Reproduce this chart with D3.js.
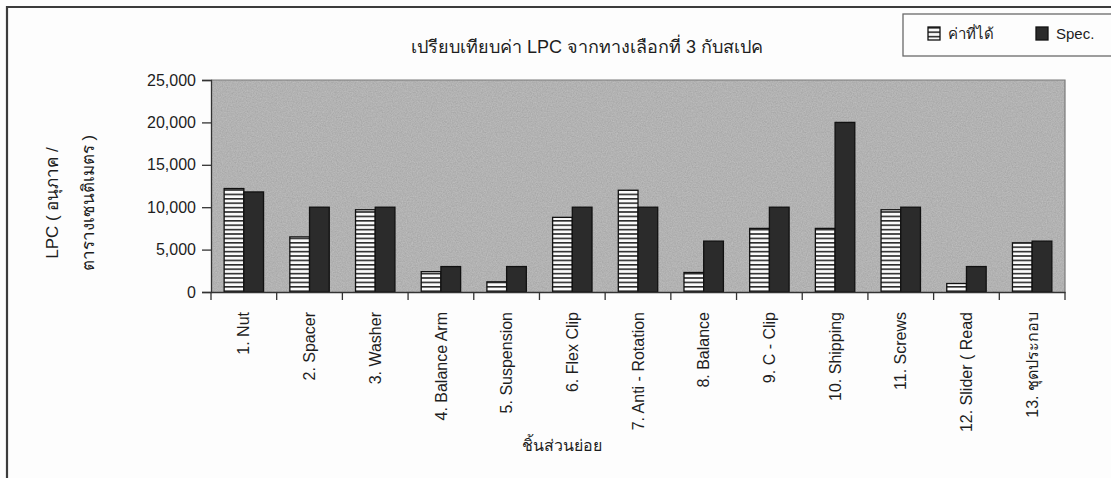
<!DOCTYPE html>
<html>
<head>
<meta charset="utf-8">
<script src="https://cdn.jsdelivr.net/npm/d3@7"></script>
<style>
  html, body { margin: 0; padding: 0; background: #fdfdfd; }
  svg { display: block; }
  text { font-family: "Liberation Sans", Arial, sans-serif; fill: #1e1e1e; }
</style>
</head>
<body>
<svg id="chart" width="1111" height="478"></svg>
<script>
// Parts measured, LPC per square centimetre
const categories = [
  "1. Nut", "2. Spacer", "3. Washer", "4. Balance Arm", "5. Suspension",
  "6. Flex Clip", "7. Anti - Rotation", "8. Balance", "9. C - Clip",
  "10. Shipping", "11. Screws", "12. Slider ( Read", "13. ชุดประกอบ"
];
const measured = [12200, 6500, 9700, 2400, 1200, 8800, 12000, 2300, 7500, 7500, 9700, 1000, 5800];
const spec     = [11800, 10000, 10000, 3000, 3000, 10000, 10000, 6000, 10000, 20000, 10000, 3000, 6000];
const seriesNames = ["ค่าที่ได้", "Spec."];
const yTicks = [0, 5000, 10000, 15000, 20000, 25000];

const titleText = "เปรียบเทียบค่า LPC จากทางเลือกที่ 3 กับสเปค";
const yTitleLines = ["LPC ( อนุภาค /", "ตารางเซนติเมตร )"];
const xTitle = "ชิ้นส่วนย่อย";

const svg = d3.select("#chart");
const W = 1111, H = 478;
const plot = { left: 211, right: 1065, top: 80, bottom: 292 };

const defs = svg.append("defs");
// horizontal hatch for the measured series
const hatch = defs.append("pattern")
  .attr("id", "hatch").attr("patternUnits", "userSpaceOnUse")
  .attr("width", 8).attr("height", 4.4);
hatch.append("rect").attr("width", 8).attr("height", 4.4).attr("fill", "#fafafa");
hatch.append("rect").attr("y", 0).attr("width", 8).attr("height", 1.6).attr("fill", "#2a2a2a");

// fine grain on the plot area background
const grain = defs.append("filter").attr("id", "grain")
  .attr("x", 0).attr("y", 0).attr("width", 1).attr("height", 1);
grain.append("feTurbulence").attr("type", "fractalNoise")
  .attr("baseFrequency", 0.8).attr("numOctaves", 2).attr("seed", 4).attr("result", "n");
grain.append("feColorMatrix").attr("in", "n").attr("type", "saturate").attr("values", 0).attr("result", "ng");
grain.append("feComponentTransfer").attr("in", "ng").attr("result", "nt")
  .call(g => {
    ["feFuncR", "feFuncG", "feFuncB"].forEach(f =>
      g.append(f).attr("type", "linear").attr("slope", 0.35).attr("intercept", 0.52));
    g.append("feFuncA").attr("type", "linear").attr("slope", 0).attr("intercept", 1);
  });
grain.append("feBlend").attr("in", "SourceGraphic").attr("in2", "nt").attr("mode", "multiply").attr("result", "b");
grain.append("feComposite").attr("in", "b").attr("in2", "SourceGraphic").attr("operator", "in");

// page background and outer frame
svg.append("rect").attr("width", W).attr("height", H).attr("fill", "#fdfdfd");
svg.append("path").attr("d", "M7,478V7H1111").attr("fill", "none")
  .attr("stroke", "#3c3c3c").attr("stroke-width", 2.2);

// scales
const x0 = d3.scaleBand().domain(categories).range([plot.left, plot.right]).padding(0);
const x1 = d3.scaleBand().domain([0, 1])
  .range([x0.bandwidth() * 0.2, x0.bandwidth() * 0.8]).padding(0);
const y = d3.scaleLinear().domain([0, 25000]).range([plot.bottom, plot.top]);

// plot area
svg.append("rect")
  .attr("x", plot.left).attr("y", plot.top)
  .attr("width", plot.right - plot.left).attr("height", plot.bottom - plot.top)
  .attr("fill", "#d2d2d2").attr("filter", "url(#grain)");
svg.append("path")
  .attr("d", `M${plot.left},${plot.top}H${plot.right}V${plot.bottom}`)
  .attr("fill", "none").attr("stroke", "#7a7a7a").attr("stroke-width", 1.2);

// bars
const rows = categories.map((c, i) => ({ c, vals: [measured[i], spec[i]] }));
const groups = svg.append("g").selectAll("g").data(rows).join("g")
  .attr("transform", d => `translate(${x0(d.c)},0)`);
groups.selectAll("rect").data(d => d.vals.map((v, k) => ({ v, k }))).join("rect")
  .attr("x", d => x1(d.k))
  .attr("y", d => y(d.v))
  .attr("width", x1.bandwidth())
  .attr("height", d => y(0) - y(d.v))
  .attr("fill", d => d.k === 0 ? "url(#hatch)" : "#2b2b2b")
  .attr("stroke", "#111").attr("stroke-width", 1.3);

// y axis
const yAxis = svg.append("g").attr("transform", `translate(${plot.left},0)`)
  .call(d3.axisLeft(y).tickValues(yTicks).tickFormat(d3.format(",")).tickSize(9).tickPadding(6));
yAxis.select(".domain").attr("stroke", "#333").attr("stroke-width", 1.3);
yAxis.selectAll(".tick line").attr("stroke", "#333").attr("stroke-width", 1.3);
yAxis.selectAll(".tick text").attr("font-size", 16).attr("fill", "#1e1e1e")
  .attr("font-family", "'Liberation Sans', Arial, sans-serif");

// x axis with ticks on category boundaries
const xAxis = svg.append("g").attr("transform", `translate(0,${plot.bottom})`)
  .call(d3.axisBottom(x0).tickSize(0).tickFormat(""));
xAxis.select(".domain").attr("stroke", "#333").attr("stroke-width", 1.3);
xAxis.selectAll(".tick").remove();
const bounds = categories.map(c => x0(c)).concat([plot.right]);
xAxis.selectAll("line.sep").data(bounds).join("line").attr("class", "sep")
  .attr("x1", d => d).attr("x2", d => d).attr("y1", 0).attr("y2", 8)
  .attr("stroke", "#333").attr("stroke-width", 1.3);
xAxis.selectAll("text.cat").data(categories).join("text").attr("class", "cat")
  .attr("transform", d => `translate(${x0(d) + x0.bandwidth() / 2},20) rotate(-90)`)
  .attr("text-anchor", "end").attr("dy", "0.35em")
  .attr("font-size", 16).attr("fill", "#2a2a2a").text(d => d);

// title
svg.append("text").attr("x", 587).attr("y", 53).attr("text-anchor", "middle")
  .attr("font-size", 18).text(titleText);

// y title, two rotated lines
svg.selectAll("text.ytitle").data(yTitleLines).join("text").attr("class", "ytitle")
  .attr("transform", (d, i) => `translate(${52 + i * 36},203) rotate(-90)`)
  .attr("text-anchor", "middle").attr("dy", "0.35em")
  .attr("font-size", 17).text(d => d);

// x title
svg.append("text").attr("x", 562).attr("y", 451).attr("text-anchor", "middle")
  .attr("font-size", 16).text(xTitle);

// legend
const lg = svg.append("g");
lg.append("rect").attr("x", 903).attr("y", 14).attr("width", 230).attr("height", 42)
  .attr("fill", "#fdfdfd").attr("stroke", "#6a6a6a").attr("stroke-width", 1.3);
const items = lg.selectAll("g").data(seriesNames).join("g")
  .attr("transform", (d, i) => `translate(${i === 0 ? 928 : 1036},27)`);
items.append("rect").attr("width", 12).attr("height", 13)
  .attr("fill", (d, i) => i === 0 ? "url(#hatch)" : "#2b2b2b")
  .attr("stroke", "#111").attr("stroke-width", 1.3);
items.append("text").attr("x", 20).attr("y", 7).attr("dy", "0.35em")
  .attr("font-size", 15).text(d => d);
</script>
</body>
</html>
